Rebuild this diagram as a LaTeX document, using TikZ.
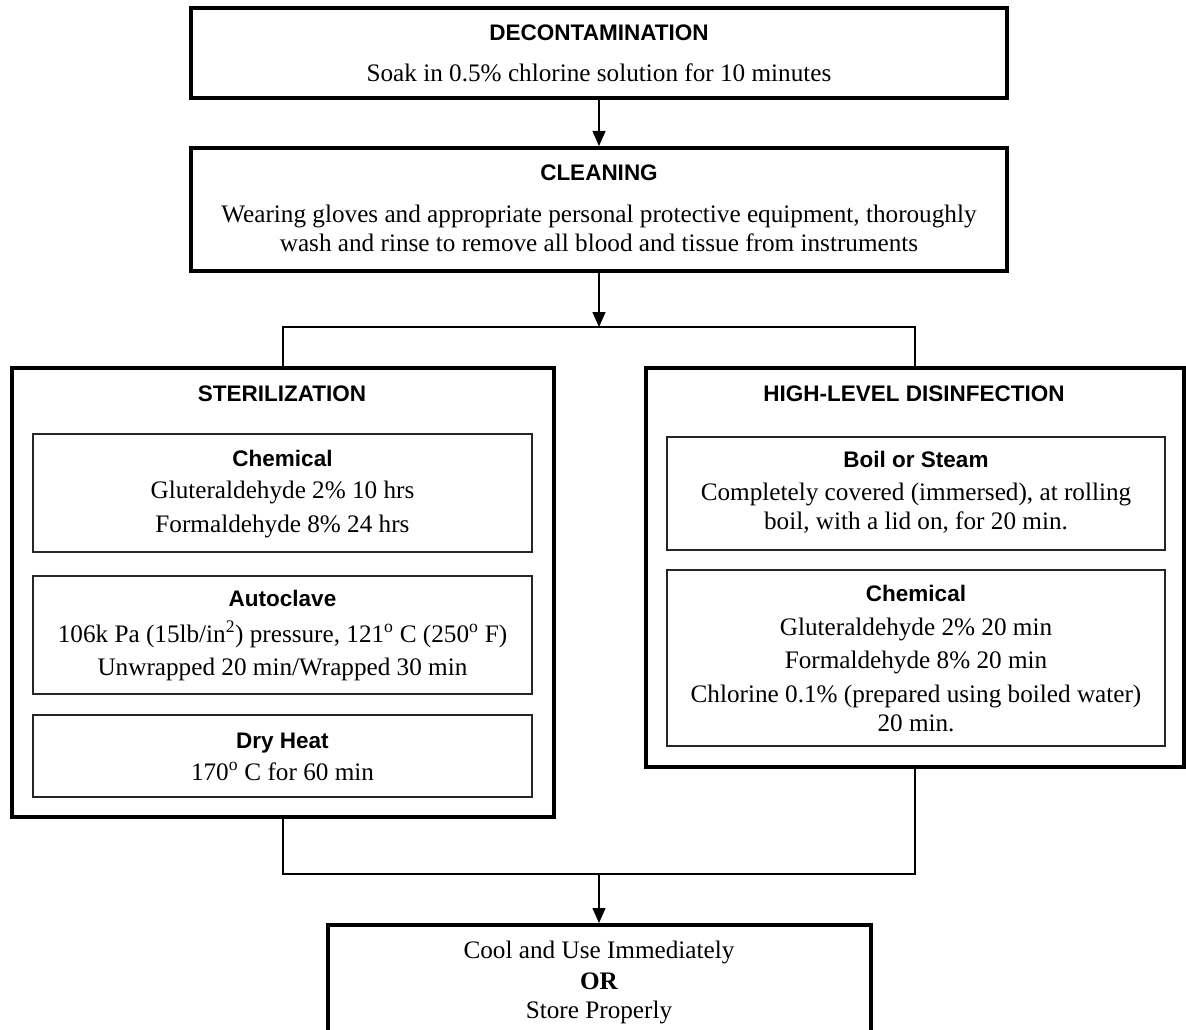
\documentclass[tikz,border=0pt]{standalone}
\usepackage{fontspec}
\setmainfont{Liberation Serif}
\newfontfamily\hfont{Liberation Sans}
\usetikzlibrary{arrows.meta}
\begin{document}
\begin{tikzpicture}[x=1pt,y=-1pt,
  outerbox/.style={draw=black, line width=4pt, rectangle, inner sep=0pt},
  innerbox/.style={draw=black!85, line width=1.3pt, rectangle, inner sep=0pt},
  conn/.style={draw=black, line width=1.3pt},
  arr/.style={conn, -{Triangle[length=15pt,width=13pt]}},
  body/.style={anchor=base, inner sep=0pt, font=\fontsize{25.2}{29}\selectfont},
  head/.style={anchor=base, inner sep=0pt, font=\hfont\bfseries\fontsize{22.5}{27}\selectfont}]
\useasboundingbox (0,0) rectangle (1186,1030);

% boxes
\node[outerbox, minimum width=816, minimum height=90] (decon) at (599,53) {};
\node[outerbox, minimum width=816, minimum height=123] (clean) at (599,209.5) {};
\node[outerbox, minimum width=542, minimum height=449] (steril) at (283,592.5) {};
\node[innerbox, minimum width=499, minimum height=118] (chemA) at (282.5,493) {};
\node[innerbox, minimum width=499, minimum height=118] (auto) at (282.5,635) {};
\node[innerbox, minimum width=499, minimum height=82] (dry) at (282.5,756) {};
\node[outerbox, minimum width=538, minimum height=399] (hld) at (915,567.5) {};
\node[innerbox, minimum width=498, minimum height=113] (boil) at (916,493.5) {};
\node[innerbox, minimum width=498, minimum height=176] (chemB) at (916,658) {};
\node[outerbox, minimum width=543, minimum height=135] (final) at (599,992.5) {};

% texts
\node[head] (tdecon) at (599,41) {DECONTAMINATION};
\node[body] (tdecon1) at (599,82) {Soak in 0.5\% chlorine solution for 10 minutes};
\node[head] (tclean) at (599,180) {CLEANING};
\node[body] (tclean1) at (599,222) {Wearing gloves and appropriate personal protective equipment, thoroughly};
\node[body] (tclean2) at (599,251) {wash and rinse to remove all blood and tissue from instruments};

\node[head] (tster) at (282,401) {STERILIZATION};
\node[head] (tchemA) at (282.5,466) {Chemical};
\node[body] (tchemA1) at (282.5,498) {Gluteraldehyde 2\% 10 hrs};
\node[body] (tchemA2) at (282.5,532) {Formaldehyde 8\% 24 hrs};
\node[head] (tauto) at (282.5,606) {Autoclave};
\node[body] (tauto1) at (282.5,642) {106k Pa (15lb/in\textsuperscript{2}) pressure, 121\textsuperscript{o} C (250\textsuperscript{o} F)};
\node[body] (tauto2) at (282.5,675) {Unwrapped 20 min/Wrapped 30 min};
\node[head] (tdry) at (282.5,748) {Dry Heat};
\node[body] (tdry1) at (282.5,780) {170\textsuperscript{o} C for 60 min};

\node[head] (thld) at (914,401) {HIGH-LEVEL DISINFECTION};
\node[head] (tboil) at (916,467) {Boil or Steam};
\node[body] (tboil1) at (916,500) {Completely covered (immersed), at rolling};
\node[body] (tboil2) at (916,529) {boil, with a lid on, for 20 min.};
\node[head] (tchemB) at (916,601) {Chemical};
\node[body] (tchemB1) at (916,635) {Gluteraldehyde 2\% 20 min};
\node[body] (tchemB2) at (916,668) {Formaldehyde 8\% 20 min};
\node[body] (tchemB3) at (916,702) {Chlorine 0.1\% (prepared using boiled water)};
\node[body] (tchemB4) at (916,731) {20 min.};

\node[body] (tfin1) at (599,958) {Cool and Use Immediately};
\node[body] (tfin2) at (599,989) {\bfseries OR};
\node[body] (tfin3) at (599,1018) {Store Properly};

% connectors
\coordinate (j1) at (599,327);
\coordinate (j2) at (599,874);
\draw[arr] (decon.south) -- (clean.north);
\draw[arr] (clean.south) -- (j1);
\draw[conn] (steril.north) |- (j1) -| (hld.north);
\draw[conn] (steril.south) |- (j2) -| (hld.south);
\draw[arr] (j2) -- (final.north);
\end{tikzpicture}
\end{document}
